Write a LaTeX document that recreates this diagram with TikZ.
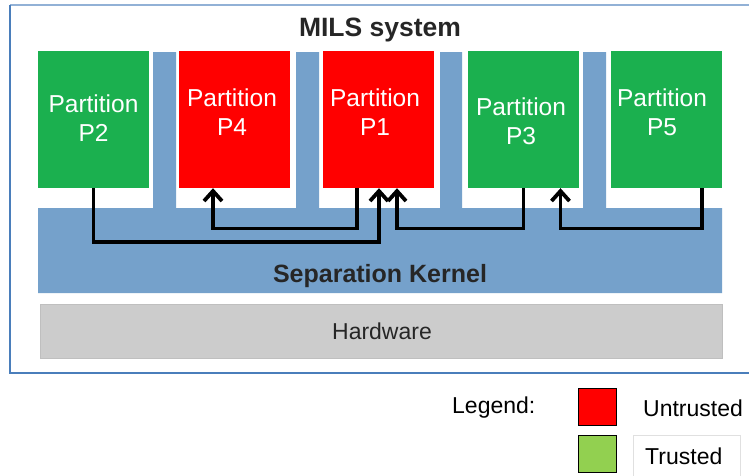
\documentclass[tikz,border=0pt]{standalone}
\usepackage{fontspec}
\setmainfont{Liberation Sans}
\usetikzlibrary{arrows.meta,calc}
\definecolor{pgreen}{HTML}{1BB04F}
\definecolor{pred}{HTML}{FF0000}
\definecolor{kblue}{HTML}{75A1CB}
\definecolor{fblue}{HTML}{4A7EBB}
\definecolor{hwgray}{HTML}{CCCCCC}
\definecolor{lgreen}{HTML}{92D050}
\definecolor{txt}{HTML}{262626}
\tikzset{
  part/.style={rectangle, draw=none, minimum width=111pt, minimum height=137pt, inner sep=0pt},
  ptext/.style={text=white, font=\fontsize{24.5}{29}\selectfont, align=center, inner sep=0pt},
  arr/.style={line width=3.8pt, -{Straight Barb[length=10pt,width=18pt,line width=3.8pt]}},
  lsq/.style={rectangle, draw=black, line width=1pt, minimum width=38pt, minimum height=37pt, inner sep=0pt},
  ltext/.style={font=\fontsize{23}{25}\selectfont, text=black, inner sep=0pt}
}
\begin{document}
\begin{tikzpicture}[x=1pt,y=-1pt]
\useasboundingbox (0,0) rectangle (749,475);
\fill[white] (0,0) rectangle (749,475);
% frame
\begin{scope}
\clip (0,0) rectangle (749,475);
\draw[fblue!60!white, line width=1.2pt] (10,5) -- (760,5);
\draw[fblue, line width=2pt] (10,5) -- (10,373) -- (760,373);
\end{scope}
% title
\node[font=\bfseries\fontsize{26.5}{29}\selectfont, text=txt, inner sep=0pt] (title) at (380,30) {MILS system};
% kernel shape
\fill[kblue] (38,208) -- (153,208) -- (153,52) -- (176,52) -- (176,208)
  -- (296,208) -- (296,52) -- (319,52) -- (319,208)
  -- (440,208) -- (440,52) -- (462,52) -- (462,208)
  -- (583,208) -- (583,52) -- (606,52) -- (606,208)
  -- (722,208) -- (722,293) -- (38,293) -- cycle;
\node[font=\bfseries\fontsize{25}{27}\selectfont, text=txt, inner sep=0pt] (kernel) at (380,276) {Separation Kernel};
% hardware
\node[rectangle, fill=hwgray, draw=black!25, line width=0.8pt, minimum width=682pt, minimum height=54pt, inner sep=0pt] (hw) at (381,331) {};
\node[font=\fontsize{23}{25}\selectfont, text=txt, inner sep=0pt] (hwt) at (382,331) {Hardware};
% partitions
\node[part, fill=pgreen] (p2) at (93.5,119.5) {};
\node[part, fill=pred] (p4) at (234,119.5) {};
\node[part, fill=pred] (p1) at (378,119.5) {};
\node[part, fill=pgreen] (p3) at (523.5,119.5) {};
\node[part, fill=pgreen] (p5) at (666,119.5) {};
\node[ptext] (t2) at (93.5,118) {Partition\\P2};
\node[ptext] (t4) at (232,112) {Partition\\P4};
\node[ptext] (t1) at (375,112) {Partition\\P1};
\node[ptext] (t3) at (521,121) {Partition\\P3};
\node[ptext] (t5) at (662,112) {Partition\\P5};
% connectors
\coordinate (ylow) at (0,242);
\coordinate (yhigh) at (0,228.5);
\draw[arr] (p2.south) -- (p2.south |- ylow) -| ([xshift=1pt]p1.south);
\draw[arr] ([xshift=-21pt]p1.south) -- ([xshift=-21pt]p1.south |- yhigh) -| ([xshift=-21pt]p4.south);
\draw[arr] (p3.south) -- (p3.south |- yhigh) -| ([xshift=19pt]p1.south);
\draw[arr] ([xshift=36pt]p5.south) -- ([xshift=36pt]p5.south |- yhigh) -| ([xshift=37pt]p3.south);
% legend
\node[ltext, anchor=west] (leg) at (452,408) {Legend:};
\node[lsq, fill=pred] (sqr) at (597.5,407) {};
\node[lsq, fill=lgreen] (sqg) at (597.5,454) {};
\node[ltext, anchor=west] (unt) at (643,408) {Untrusted};
\draw[black!12, line width=0.8pt] (633,478) -- (633,435) -- (740,435) -- (740,478);
\node[ltext, anchor=west] (tru) at (645,456) {Trusted};
\end{tikzpicture}
\end{document}
